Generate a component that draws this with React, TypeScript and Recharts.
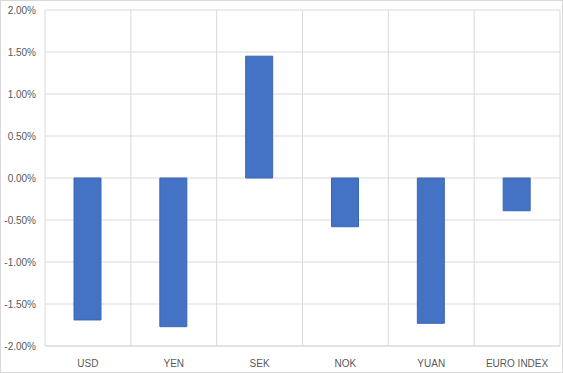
import React from "react";
import { BarChart, Bar, XAxis, YAxis, CartesianGrid } from "recharts";

const currencies = ["USD", "YEN", "SEK", "NOK", "YUAN", "EURO INDEX"];
const changes = [-0.0169, -0.0177, 0.0145, -0.0058, -0.0173, -0.0039];
const yTicks = [-0.02, -0.015, -0.01, -0.005, 0, 0.005, 0.01, 0.015, 0.02];

const chartData = currencies.map((name, i) => ({ name, change: changes[i] }));

const tickStyle = { fontSize: 10, fill: "#595959", fontFamily: "Liberation Sans, Arial, sans-serif" };

export default function App() {
  return (
    <div
      style={{
        position: "absolute",
        left: 0,
        top: 0,
        width: 563,
        height: 373,
        background: "#fff",
        boxSizing: "border-box",
        border: "1px solid #d9d9d9",
      }}
    >
      <BarChart
        width={561}
        height={371}
        data={chartData}
        margin={{ top: 9, right: 2, bottom: 6, left: 0 }}
      >
        <CartesianGrid
          stroke="#d9d9d9"
          verticalCoordinatesGenerator={({ offset }: any) =>
            currencies.map((_, i) => offset.left + (i * offset.width) / currencies.length).concat(offset.left + offset.width)
          }
        />
        <XAxis
          dataKey="name"
          axisLine={{ stroke: "#d9d9d9" }}
          tickLine={false}
          tick={tickStyle}
          tickMargin={8}
          height={20}
          interval={0}
        />
        <YAxis
          type="number"
          domain={[-0.02, 0.02]}
          ticks={yTicks}
          interval={0}
          axisLine={false}
          tickLine={false}
          tickSize={0}
          tickMargin={9}
          width={44}
          tick={tickStyle}
          tickFormatter={(v: number) => (v * 100).toFixed(2) + "%"}
        />
        <Bar
          dataKey="change"
          fill="#4472c4"
          stroke="#3b66b5"
          strokeWidth={1}
          barSize={27}
          isAnimationActive={false}
        />
      </BarChart>
    </div>
  );
}
